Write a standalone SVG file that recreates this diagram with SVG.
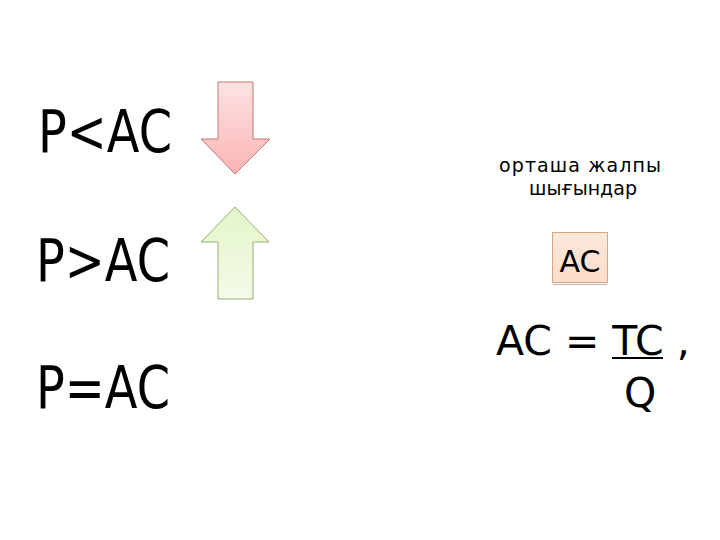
<svg xmlns="http://www.w3.org/2000/svg" width="720" height="540" viewBox="0 0 720 540">
<defs>
<linearGradient id="gRed" x1="0" y1="0" x2="0" y2="1">
<stop offset="0" stop-color="#fde3e3"/>
<stop offset="1" stop-color="#fbb4b4"/>
</linearGradient>
<linearGradient id="gGreen" x1="0" y1="0" x2="0" y2="1">
<stop offset="0" stop-color="#e3f5c8"/>
<stop offset="1" stop-color="#f4fbe9"/>
</linearGradient>
<linearGradient id="gBox" x1="0" y1="0" x2="0" y2="1">
<stop offset="0" stop-color="#fce8dc"/>
<stop offset="1" stop-color="#fbdcc8"/>
</linearGradient>
<style>
.big{font-family:"DejaVu Sans",sans-serif;font-size:58px;fill:#000}
.small{font-family:"DejaVu Sans",sans-serif;font-size:19px;fill:#000}
.f{font-family:"DejaVu Sans",sans-serif;font-size:41px;fill:#000}
</style>
</defs>
<rect width="720" height="540" fill="#fff"/>
<g id="labels">
<text class="big" x="38" y="152" textLength="134" lengthAdjust="spacingAndGlyphs">P&lt;AC</text>
<text class="big" x="36" y="281" textLength="134" lengthAdjust="spacingAndGlyphs">P&gt;AC</text>
<text class="big" x="36" y="408" textLength="134" lengthAdjust="spacingAndGlyphs">P=AC</text>
</g>
<g id="arrow-down">
<path d="M218,82 H253 V139 H270 L235,174 L201,139 H218 Z" fill="url(#gRed)" stroke="#c07878" stroke-width="1"/>
</g>
<g id="arrow-up">
<path d="M235,207 L269,242 H253 V299 H218 V242 H201 Z" fill="url(#gGreen)" stroke="#98ae78" stroke-width="1"/>
</g>
<g id="caption">
<text class="small" x="499" y="172" textLength="162" lengthAdjust="spacing">орташа  жалпы</text>
<text class="small" x="529" y="195" textLength="108" lengthAdjust="spacing">шығындар</text>
</g>
<g id="ac-box">
<rect x="552.5" y="232.5" width="55" height="50" fill="url(#gBox)" stroke="#d6a882" stroke-width="1"/>
<line x1="553" y1="284.5" x2="607" y2="284.5" stroke="#c9b7a8" stroke-width="1"/>
<text x="580" y="272" font-family="DejaVu Sans, sans-serif" font-size="30" text-anchor="middle">AC</text>
</g>
<g id="formula">
<text class="f" x="496" y="355">AC = TC ,</text>
<line x1="612" y1="358" x2="663" y2="358" stroke="#000" stroke-width="2"/>
<text class="f" x="624" y="407">Q</text>
</g>
</svg>
